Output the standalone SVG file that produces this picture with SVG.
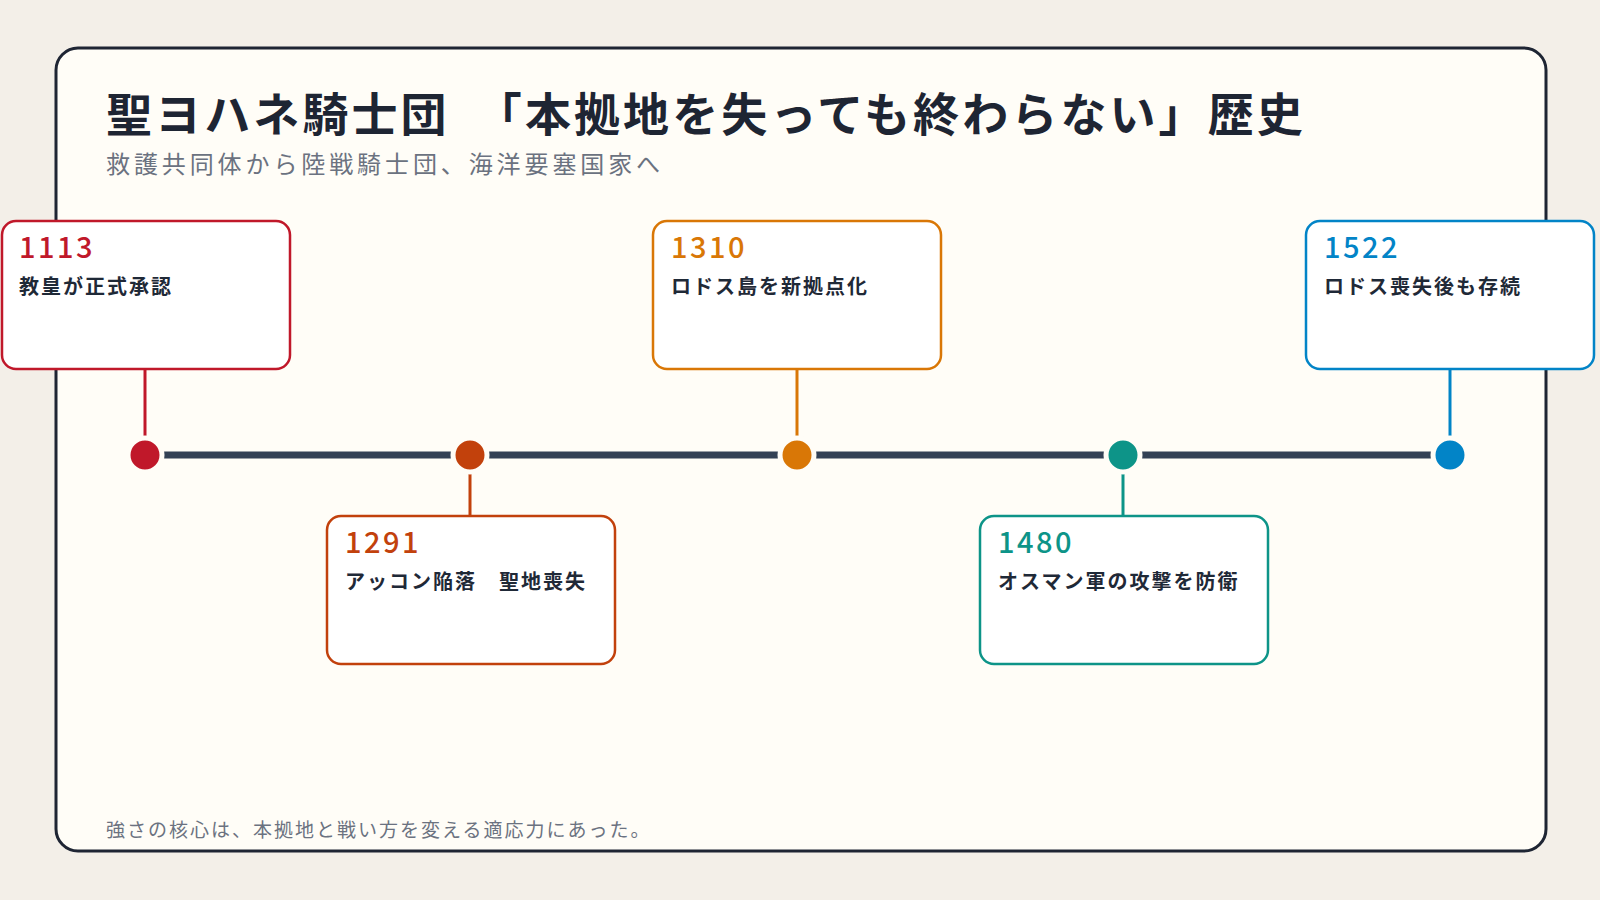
<svg xmlns="http://www.w3.org/2000/svg" width="1600" height="900" viewBox="0 0 1600 900">
<style>
text{font-family:"Noto Sans CJK JP","Noto Sans",sans-serif}
.box{fill:#fff;stroke-width:2.5}
.yr{font-size:29px;font-weight:500;letter-spacing:2.5px}
.lb{font-size:20px;font-weight:700;fill:#1f2937;letter-spacing:2px}
.stem{stroke-width:3}
.dot{stroke:#fffdf7;stroke-width:5}
</style>
<rect width="1600" height="900" fill="#f3efe8"/>
<rect x="56" y="48" width="1490" height="803" rx="22" fill="#fffdf7" stroke="#1e2533" stroke-width="3"/>
<text x="106" y="131" font-size="46" font-weight="700" fill="#1e2533" letter-spacing="3.1">聖ヨハネ騎士団　「本拠地を失っても終わらない」歴史</text>
<text x="106" y="173" font-size="24" fill="#6b7280" letter-spacing="3.9">救護共同体から陸戦騎士団、海洋要塞国家へ</text>
<g id="connectors">
<line x1="145" y1="455" x2="1450" y2="455" stroke="#334155" stroke-width="7"/>
<line class="stem" x1="145" y1="369" x2="145" y2="445" stroke="#c0182a"/>
<line class="stem" x1="470" y1="465" x2="470" y2="516" stroke="#c2410c"/>
<line class="stem" x1="797" y1="369" x2="797" y2="445" stroke="#d97706"/>
<line class="stem" x1="1123" y1="465" x2="1123" y2="516" stroke="#0d9488"/>
<line class="stem" x1="1450" y1="369" x2="1450" y2="445" stroke="#0284c7"/>
</g>
<g id="n1113"><circle class="dot" cx="145" cy="455" r="17" fill="#c0182a"/><rect class="box" x="2" y="221" width="288" height="148" rx="14" stroke="#c0182a"/><text class="yr" x="19" y="258" fill="#c0182a">1113</text><text class="lb" x="19" y="294">教皇が正式承認</text></g>
<g id="n1291"><circle class="dot" cx="470" cy="455" r="17" fill="#c2410c"/><rect class="box" x="327" y="516" width="288" height="148" rx="14" stroke="#c2410c"/><text class="yr" x="345" y="553" fill="#c2410c">1291</text><text class="lb" x="345" y="589">アッコン陥落　聖地喪失</text></g>
<g id="n1310"><circle class="dot" cx="797" cy="455" r="17" fill="#d97706"/><rect class="box" x="653" y="221" width="288" height="148" rx="14" stroke="#d97706"/><text class="yr" x="671" y="258" fill="#d97706">1310</text><text class="lb" x="671" y="294">ロドス島を新拠点化</text></g>
<g id="n1480"><circle class="dot" cx="1123" cy="455" r="17" fill="#0d9488"/><rect class="box" x="980" y="516" width="288" height="148" rx="14" stroke="#0d9488"/><text class="yr" x="998" y="553" fill="#0d9488">1480</text><text class="lb" x="998" y="589">オスマン軍の攻撃を防衛</text></g>
<g id="n1522"><circle class="dot" cx="1450" cy="455" r="17" fill="#0284c7"/><rect class="box" x="1306" y="221" width="288" height="148" rx="14" stroke="#0284c7"/><text class="yr" x="1324" y="258" fill="#0284c7">1522</text><text class="lb" x="1324" y="294">ロドス喪失後も存続</text></g>
<text x="106" y="837" font-size="19" fill="#6b7280" letter-spacing="2">強さの核心は、本拠地と戦い方を変える適応力にあった。</text>
</svg>
